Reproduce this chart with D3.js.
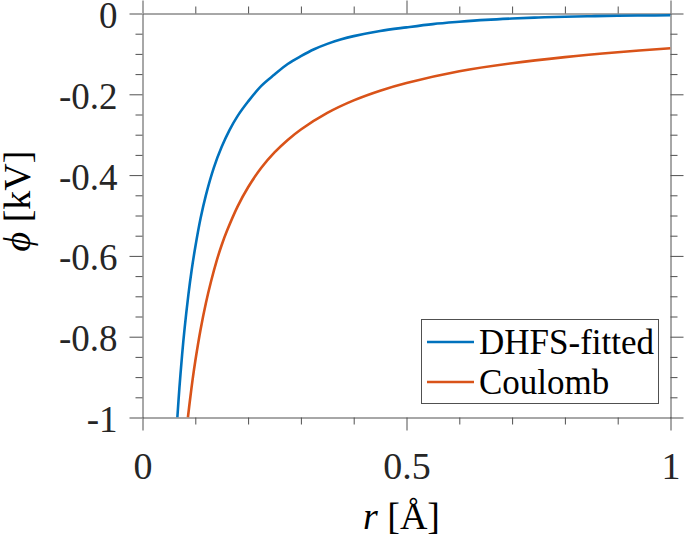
<!DOCTYPE html>
<html>
<head>
<meta charset="utf-8">
<script src="https://cdn.jsdelivr.net/npm/d3@7"></script>
<style>
  html, body { margin: 0; padding: 0; background: #fff; }
  svg { display: block; }
</style>
</head>
<body>
<script>
// ---- data ----
const seriesNames = ["DHFS-fitted", "Coulomb"];
const seriesColors = ["#0072BD", "#D95319"];

const rDHFS   = [0.066, 0.070, 0.075, 0.080, 0.087, 0.093, 0.100, 0.110, 0.120, 0.135, 0.150, 0.165, 0.180, 0.200, 0.225, 0.250, 0.275, 0.300, 0.325, 0.350, 0.375, 0.400, 0.450, 0.500, 0.550, 0.600, 0.650, 0.700, 0.750, 0.800, 0.850, 0.900, 0.950, 1.000];
const phiDHFS = [-1.000, -0.925, -0.845, -0.776, -0.695, -0.636, -0.578, -0.507, -0.450, -0.382, -0.330, -0.288, -0.254, -0.218, -0.179, -0.151, -0.125, -0.1055, -0.0885, -0.0752, -0.0646, -0.0560, -0.0432, -0.0343, -0.0263, -0.0206, -0.0158, -0.0124, -0.0099, -0.0080, -0.0067, -0.0056, -0.0050, -0.0045];

const rCoulomb   = [0.086, 0.090, 0.095, 0.100, 0.110, 0.120, 0.130, 0.140, 0.150, 0.160, 0.180, 0.200, 0.225, 0.250, 0.275, 0.300, 0.350, 0.400, 0.450, 0.500, 0.600, 0.700, 0.800, 0.900, 1.000];
const phiCoulomb = [-1.000, -0.956, -0.905, -0.860, -0.782, -0.717, -0.662, -0.614, -0.573, -0.538, -0.478, -0.430, -0.382, -0.344, -0.313, -0.287, -0.246, -0.215, -0.191, -0.172, -0.143, -0.123, -0.108, -0.096, -0.086];

const xMajorTicks  = [0, 0.5, 1];
const xTickLabels  = ["0", "0.5", "1"];
const xMinorTicks  = [0.1, 0.2, 0.3, 0.4, 0.6, 0.7, 0.8, 0.9];
const yMajorTicks  = [0, -0.2, -0.4, -0.6, -0.8, -1];
const yTickLabels  = ["0", "-0.2", "-0.4", "-0.6", "-0.8", "-1"];
const yMinorTicks  = [-0.05, -0.1, -0.15, -0.25, -0.3, -0.35, -0.45, -0.5, -0.55, -0.65, -0.7, -0.75, -0.85, -0.9, -0.95];

// ---- layout ----
const W = 685, H = 537;
const plot = { left: 142.5, right: 670.5, top: 13.5, bottom: 417.5 };
const axisColor = "#505050";
const majorLen = 13, minorLen = 7;
const serif = '"Liberation Serif"';

function setFont(sel, size, style) {
  sel.style("font-family", serif, "important")
     .style("font-size", size + "px", "important");
  if (style) sel.style("font-style", style, "important");
  return sel;
}

const svg = d3.select("body").append("svg")
  .attr("width", W).attr("height", H)
  .style("font-family", serif);

const x = d3.scaleLinear().domain([0, 1]).range([plot.left, plot.right]);
const y = d3.scaleLinear().domain([-1, 0]).range([plot.bottom, plot.top]);

svg.append("defs").append("clipPath").attr("id", "clip")
  .append("rect")
  .attr("x", plot.left).attr("y", plot.top)
  .attr("width", plot.right - plot.left).attr("height", plot.bottom - plot.top);

function styleAxis(g) {
  g.attr("font-family", null);
  g.select(".domain").attr("stroke", axisColor).attr("stroke-width", 1);
  g.selectAll(".tick line").attr("stroke", axisColor).attr("stroke-width", 1);
}

// bottom major
const gB = svg.append("g").attr("transform", `translate(0,${plot.bottom})`)
  .call(d3.axisBottom(x).tickValues(xMajorTicks).tickSize(majorLen).tickSizeOuter(0)
        .tickFormat((d, i) => xTickLabels[i]));
styleAxis(gB);
setFont(gB.selectAll(".tick text").attr("y", 61).attr("dy", null).attr("fill", "#262626"), 38);
const gBm = svg.append("g").attr("transform", `translate(0,${plot.bottom})`)
  .call(d3.axisBottom(x).tickValues(xMinorTicks).tickSize(minorLen).tickFormat(""));
gBm.select(".domain").remove();
styleAxis(gBm);

// top
const gT = svg.append("g").attr("transform", `translate(0,${plot.top})`)
  .call(d3.axisTop(x).tickValues(xMajorTicks).tickSize(majorLen).tickSizeOuter(0).tickFormat(""));
styleAxis(gT);
const gTm = svg.append("g").attr("transform", `translate(0,${plot.top})`)
  .call(d3.axisTop(x).tickValues(xMinorTicks).tickSize(minorLen).tickFormat(""));
gTm.select(".domain").remove();
styleAxis(gTm);

// left major
const gL = svg.append("g").attr("transform", `translate(${plot.left},0)`)
  .call(d3.axisLeft(y).tickValues(yMajorTicks).tickSize(majorLen).tickSizeOuter(0)
        .tickFormat((d, i) => yTickLabels[i]));
styleAxis(gL);
setFont(gL.selectAll(".tick text").attr("x", -25).attr("dy", null).attr("y", 14).attr("fill", "#262626"), 37);
const gLm = svg.append("g").attr("transform", `translate(${plot.left},0)`)
  .call(d3.axisLeft(y).tickValues(yMinorTicks).tickSize(minorLen).tickFormat(""));
gLm.select(".domain").remove();
styleAxis(gLm);

// right
const gR = svg.append("g").attr("transform", `translate(${plot.right},0)`)
  .call(d3.axisRight(y).tickValues(yMajorTicks).tickSize(majorLen).tickSizeOuter(0).tickFormat(""));
styleAxis(gR);
const gRm = svg.append("g").attr("transform", `translate(${plot.right},0)`)
  .call(d3.axisRight(y).tickValues(yMinorTicks).tickSize(minorLen).tickFormat(""));
gRm.select(".domain").remove();
styleAxis(gRm);

// curves
const line = d3.line().x(d => x(d[0])).y(d => y(d[1])).curve(d3.curveCatmullRom.alpha(0.5));
const series = [
  d3.zip(rDHFS, phiDHFS),
  d3.zip(rCoulomb, phiCoulomb)
];
const gLines = svg.append("g").attr("clip-path", "url(#clip)");
series.forEach((s, i) => {
  gLines.append("path").datum(s)
    .attr("d", line)
    .attr("fill", "none")
    .attr("stroke", seriesColors[i])
    .attr("stroke-width", 2.6)
    .attr("stroke-linejoin", "round");
});

// axis labels
const xl = svg.append("text")
  .attr("x", 401.5).attr("y", 529)
  .attr("text-anchor", "middle").attr("fill", "#000");
setFont(xl, 38);
setFont(xl.append("tspan").text("r"), 38, "italic");
setFont(xl.append("tspan").text(" [Å]"), 38);

const yl = svg.append("text")
  .attr("transform", "translate(30,201) rotate(-90)")
  .attr("text-anchor", "middle").attr("fill", "#000");
setFont(yl, 38);
setFont(yl.append("tspan").text("ϕ"), 38, "italic");
setFont(yl.append("tspan").text(" [kV]"), 38);

// legend
const lg = svg.append("g");
lg.append("rect")
  .attr("x", 421.5).attr("y", 319.5).attr("width", 237).attr("height", 84)
  .attr("fill", "#fff").attr("stroke", axisColor).attr("stroke-width", 1);
const rowY = [342, 382];
seriesNames.forEach((name, i) => {
  lg.append("line")
    .attr("x1", 427).attr("x2", 474)
    .attr("y1", rowY[i]).attr("y2", rowY[i])
    .attr("stroke", seriesColors[i]).attr("stroke-width", 2.6);
  setFont(lg.append("text")
    .attr("x", 479).attr("y", rowY[i] + 12)
    .attr("fill", "#000")
    .text(name), 35);
});
</script>
</body>
</html>
